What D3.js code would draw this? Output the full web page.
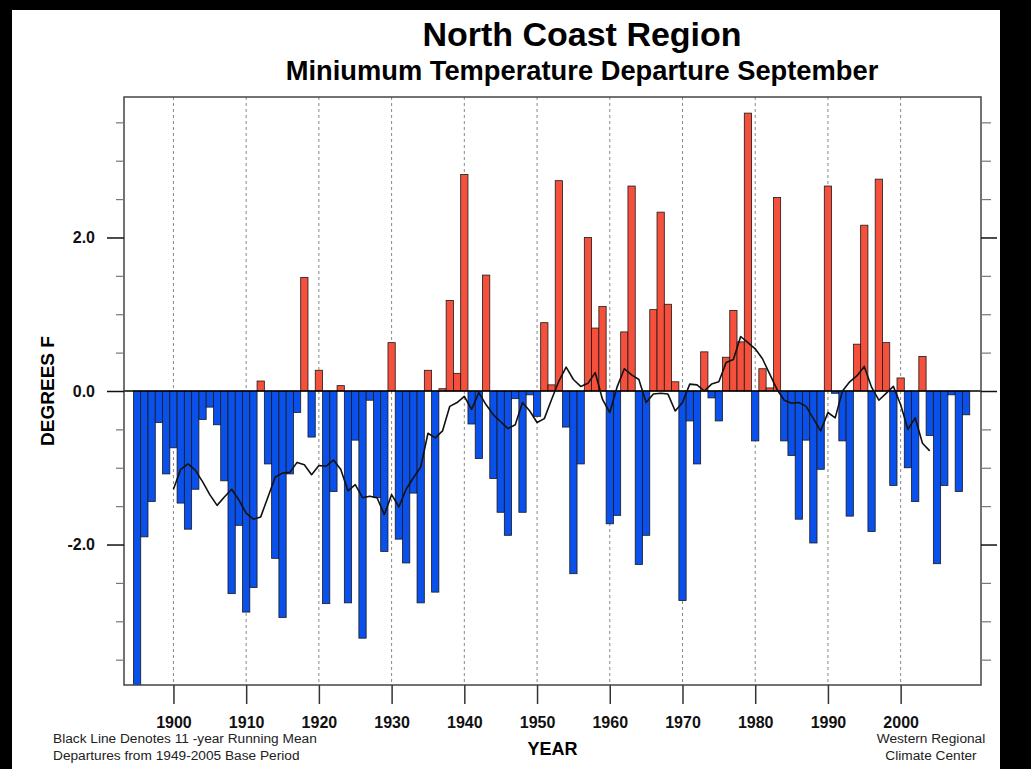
<!DOCTYPE html>
<html>
<head>
<meta charset="utf-8">
<script src="https://cdn.jsdelivr.net/npm/d3@7"></script>
<style>
  body { margin: 0; background: #000; }
  svg { display: block; font-family: "Liberation Sans", Arial, Helvetica, sans-serif; }
</style>
</head>
<body>
<div id="chart"></div>
<script>
// September minimum temperature departures (deg F), 1895-2009
const firstYear = 1895;
const departures = [
  -3.9, -1.90, -1.44, -0.41, -1.08,               // 1895-1899
  -0.74, -1.46, -1.80, -1.28, -0.37, -0.21, -0.44, -1.17, -2.64, -1.75, // 1900s
  -2.88, -2.56, 0.13, -0.95, -2.18, -2.95, -1.08, -0.28, 1.48, -0.60,   // 1910s
  0.27, -2.77, -1.31, 0.07, -2.76, -0.64, -3.22, -0.12, -1.39, -2.09,   // 1920s
  0.63, -1.93, -2.24, -1.33, -2.76, 0.27, -2.62, 0.03, 1.18, 0.23,      // 1930s
  2.82, -0.43, -0.88, 1.51, -1.14, -1.58, -1.88, -0.10, -1.58, -0.05,   // 1940s
  -0.33, 0.89, 0.08, 2.74, -0.47, -2.38, -0.95, 2.00, 0.82, 1.10,       // 1950s
  -1.73, -1.62, 0.77, 2.67, -2.26, -1.88, 1.06, 2.33, 1.13, 0.12,       // 1960s
  -2.73, -0.39, -0.95, 0.51, -0.09, -0.39, 0.44, 1.05, 0.64, 3.62,      // 1970s
  -0.65, 0.29, 0.04, 2.52, -0.65, -0.84, -1.67, -0.64, -1.98, -1.02,    // 1980s
  2.67, -0.03, -0.65, -1.63, 0.61, 2.16, -1.83, 2.76, 0.63, -1.23,      // 1990s
  0.17, -1.00, -1.44, 0.45, -0.58, -2.25, -1.23, -0.05, -1.31, -0.31    // 2000s
];

// 11-year running mean as drawn (black line), 1900-2004
const meanFirstYear = 1900;
const runningMean = [
  -1.28, -1.02, -0.95, -1.03, -1.18, -1.35, -1.49, -1.38, -1.28, -1.42,
  -1.59, -1.67, -1.64, -1.38, -1.12, -1.07, -1.06, -0.93, -0.96, -1.09,
  -0.97, -0.98, -0.90, -1.02, -1.30, -1.22, -1.39, -1.37, -1.39, -1.61,
  -1.35, -1.51, -1.28, -1.13, -0.99, -0.55, -0.61, -0.52, -0.20, -0.15,
  -0.07, -0.24, -0.02, -0.18, -0.31, -0.40, -0.49, -0.44, -0.15, -0.26,
  -0.41, -0.36, -0.11, 0.13, 0.31, 0.15, 0.06, 0.10, 0.24, -0.11,
  -0.28, 0.05, 0.29, 0.21, 0.15, -0.15, -0.04, -0.03, -0.04, -0.26,
  -0.15, 0.09, 0.08, 0.00, 0.09, 0.12, 0.37, 0.41, 0.71, 0.63,
  0.55, 0.42, 0.22, 0.02, -0.12, -0.16, -0.15, -0.20, -0.36, -0.52,
  -0.28, -0.35, 0.00, 0.12, 0.20, 0.32, 0.05, -0.12, -0.03, 0.06,
  -0.18, -0.50, -0.35, -0.68, -0.78
];

const decadeTicks = [1900, 1910, 1920, 1930, 1940, 1950, 1960, 1970, 1980, 1990, 2000];
const majorYTicks = [-2, 0, 2];
const minorYTicks = [-3.5, -3, -2.5, -1.5, -1, -0.5, 0.5, 1, 1.5, 2.5, 3, 3.5];

const bars = departures.map((v, i) => ({ year: firstYear + i, value: v }));
const mean = runningMean.map((v, i) => ({ year: meanFirstYear + i, value: v }));

const W = 1031, H = 769;
const plot = { left: 124, right: 981, top: 97, bottom: 685 };

const svg = d3.select("#chart").append("svg")
  .attr("width", W).attr("height", H);

// page
svg.append("rect").attr("width", W).attr("height", H).attr("fill", "#000");
svg.append("rect").attr("x", 12).attr("y", 10).attr("width", 988).attr("height", H - 10)
  .attr("fill", "#fff");

const x = d3.scaleLinear().domain([1893.2, 2011.05]).range([plot.left, plot.right]);
const y = d3.scaleLinear().domain([-3.83, 3.83]).range([plot.bottom, plot.top]);

svg.append("clipPath").attr("id", "clip")
  .append("rect")
  .attr("x", plot.left).attr("y", plot.top)
  .attr("width", plot.right - plot.left).attr("height", plot.bottom - plot.top);

// decade gridlines
svg.append("g")
  .selectAll("line")
  .data(decadeTicks)
  .join("line")
  .attr("x1", d => x(d)).attr("x2", d => x(d))
  .attr("y1", plot.top).attr("y2", plot.bottom)
  .attr("stroke", "#888")
  .attr("stroke-width", 1)
  .attr("stroke-dasharray", "3,3");

// bars
svg.append("g")
  .attr("clip-path", "url(#clip)")
  .selectAll("rect")
  .data(bars)
  .join("rect")
  .attr("x", d => x(d.year - 0.5))
  .attr("width", d => x(d.year + 0.5) - x(d.year - 0.5))
  .attr("y", d => y(Math.max(0, d.value)))
  .attr("height", d => Math.abs(y(d.value) - y(0)))
  .attr("fill", d => d.value >= 0 ? "#f5503c" : "#0a50ea")
  .attr("stroke", "#1a1a1a")
  .attr("stroke-width", 0.8);

// zero line
svg.append("line")
  .attr("x1", plot.left).attr("x2", plot.right)
  .attr("y1", y(0)).attr("y2", y(0))
  .attr("stroke", "#000").attr("stroke-width", 1.3);

// running mean
const line = d3.line()
  .x(d => x(d.year))
  .y(d => y(d.value));

svg.append("path")
  .datum(mean)
  .attr("d", line)
  .attr("fill", "none")
  .attr("stroke", "#111")
  .attr("stroke-width", 1.6)
  .attr("stroke-linejoin", "round");

// frame
svg.append("rect")
  .attr("x", plot.left).attr("y", plot.top)
  .attr("width", plot.right - plot.left).attr("height", plot.bottom - plot.top)
  .attr("fill", "none").attr("stroke", "#444").attr("stroke-width", 1.5);

function styleAxis(g, color, width) {
  g.select(".domain").remove();
  g.selectAll(".tick line").attr("stroke", color).attr("stroke-width", width);
}

// left axis
svg.append("g")
  .attr("transform", `translate(${plot.left},0)`)
  .call(d3.axisLeft(y).tickValues(minorYTicks).tickSize(8).tickFormat(""))
  .call(g => styleAxis(g, "#777", 1.2));

svg.append("g")
  .attr("transform", `translate(${plot.left},0)`)
  .call(d3.axisLeft(y).tickValues(majorYTicks).tickSize(17).tickPadding(12).tickFormat(d => d.toFixed(1)))
  .call(g => styleAxis(g, "#111", 1.5))
  .call(g => g.selectAll("text")
    .attr("fill", "#111")
    .attr("font-size", 16)
    .attr("font-weight", "bold")
    .attr("font-family", "Liberation Sans, Arial, sans-serif"));

// right axis
svg.append("g")
  .attr("transform", `translate(${plot.right},0)`)
  .call(d3.axisRight(y).tickValues(minorYTicks).tickSize(10).tickFormat(""))
  .call(g => styleAxis(g, "#777", 1.2));

svg.append("g")
  .attr("transform", `translate(${plot.right},0)`)
  .call(d3.axisRight(y).tickValues(majorYTicks).tickSize(16).tickFormat(""))
  .call(g => styleAxis(g, "#111", 1.5));

// bottom axis
svg.append("g")
  .attr("transform", `translate(0,${plot.bottom})`)
  .call(d3.axisBottom(x).tickValues(decadeTicks).tickSize(19).tickPadding(13).tickFormat(d3.format("d")))
  .call(g => styleAxis(g, "#333", 1.5))
  .call(g => g.selectAll("text")
    .attr("fill", "#111")
    .attr("font-size", 16)
    .attr("font-weight", "bold")
    .attr("font-family", "Liberation Sans, Arial, sans-serif"));

// titles
svg.append("text")
  .attr("x", 582).attr("y", 46)
  .attr("text-anchor", "middle")
  .attr("font-size", 34).attr("font-weight", "bold")
  .text("North Coast Region");

svg.append("text")
  .attr("x", 582).attr("y", 80)
  .attr("text-anchor", "middle")
  .attr("font-size", 27.3).attr("font-weight", "bold")
  .text("Miniumum Temperature Departure September");

svg.append("text")
  .attr("transform", `translate(54,${y(0)}) rotate(-90)`)
  .attr("text-anchor", "middle")
  .attr("font-size", 19).attr("font-weight", "bold")
  .text("DEGREES F");

svg.append("text")
  .attr("x", (plot.left + plot.right) / 2).attr("y", 755)
  .attr("text-anchor", "middle")
  .attr("font-size", 18).attr("font-weight", "bold")
  .text("YEAR");

const notes = svg.append("g").attr("font-size", 13.7).attr("fill", "#222");
notes.append("text").attr("x", 53).attr("y", 743).text("Black Line Denotes 11 -year Running Mean");
notes.append("text").attr("x", 53).attr("y", 760).text("Departures from 1949-2005 Base Period");
notes.append("text").attr("x", 931).attr("y", 743).attr("text-anchor", "middle").text("Western Regional");
notes.append("text").attr("x", 931).attr("y", 760).attr("text-anchor", "middle").text("Climate Center");
</script>
</body>
</html>
